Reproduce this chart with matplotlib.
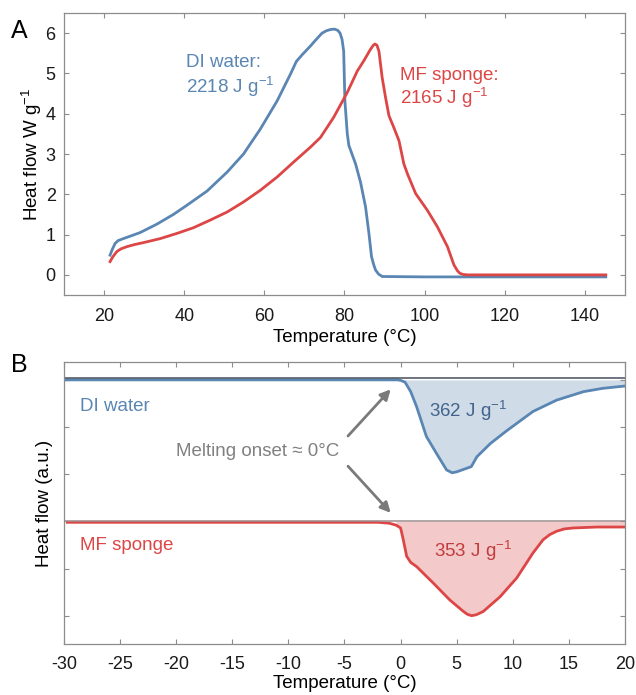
import matplotlib
matplotlib.use("Agg")
import matplotlib.pyplot as plt
import numpy as np

plt.rcParams['font.family'] = ['Liberation Sans', 'DejaVu Sans']
plt.rcParams['mathtext.default'] = 'regular'
plt.rcParams['axes.unicode_minus'] = False

# ---------------- Panel A data (Temperature °C, Heat flow W/g) ----------------
a_water_T = [21.5, 22.0, 22.75, 23.5, 24.8, 26.5, 29, 33.2, 37.3, 40.7, 45.7, 50.7, 54.8, 59,
             63.2, 66.5, 68.0, 69.5, 71.5, 73.0, 74.4, 75.5, 76.5, 77.5, 78.3, 78.9, 79.4,
             79.8, 80.1, 80.7, 81.1, 82.75, 84, 85.25, 86.1, 86.75, 87.3, 87.75, 88.5, 89.4,
             100, 120, 145.2]
a_water_H = [0.49, 0.62, 0.78, 0.85, 0.9, 0.96, 1.05, 1.26, 1.5, 1.73, 2.08, 2.55, 3.0, 3.62,
             4.32, 4.98, 5.3, 5.47, 5.68, 5.85, 6.0, 6.06, 6.09, 6.1, 6.07, 6.0, 5.84,
             5.55, 4.32, 3.5, 3.21, 2.76, 2.3, 1.69, 1.03, 0.45, 0.25, 0.12, 0.02, -0.04,
             -0.05, -0.05, -0.05]
a_sponge_T = [21.5, 22.2, 23.2, 24.3, 25.7, 27.5, 29.8, 34, 38.2, 42.3, 46.5, 50.7, 54.8, 59,
              63.2, 67.3, 71.5, 74, 77.3, 80.7, 83.2, 84.8, 86.5, 87.2, 87.6, 88.1, 88.6,
              89.4, 90.25, 91.1, 92.3, 93.6, 94.8, 95.7, 97.75, 100.7, 103.2, 105.7, 107.3,
              108.2, 108.8, 109.6, 110.7, 120, 145.2]
a_sponge_H = [0.33, 0.45, 0.58, 0.65, 0.7, 0.75, 0.8, 0.9, 1.03, 1.17, 1.36, 1.56, 1.81, 2.1,
              2.43, 2.8, 3.17, 3.41, 3.91, 4.53, 5.06, 5.31, 5.6, 5.7, 5.73, 5.7, 5.55,
              4.9, 4.4, 3.95, 3.66, 3.33, 2.76, 2.51, 2.02, 1.6, 1.19, 0.7, 0.25,
              0.1, 0.04, 0.01, 0.0, 0.0, 0.0]

# ---------------- Panel B data (Temperature °C, heat flow a.u.) ----------------
b_water_T = [-30, -5, -1, -0.3, 0, 0.4, 0.9, 1.43, 2.3, 3.2, 4.1, 4.6, 5.0, 6.3, 6.8, 8.0,
             9.45, 11.8, 13.9, 16.3, 18, 20]
b_water_H = [0, 0, 0, 0, -0.01, -0.05, -0.25, -0.57, -1.2, -1.56, -1.91, -1.97, -1.95, -1.84,
             -1.63, -1.35, -1.08, -0.67, -0.43, -0.25, -0.18, -0.13]
b_water_base = 0.0
b_sponge_T = [-29.7, -5, -2, -1, -0.4, 0, 0.24, 0.54, 0.9, 1.43, 2.92, 4.4, 5.6, 5.95, 6.33,
              6.75, 7.37, 8.86, 10.35, 11.8, 12.7, 13.3, 13.9, 14.6, 15.4, 17.5, 20]
b_sponge_H = [-3.02, -3.02, -3.02, -3.04, -3.08, -3.14, -3.39, -3.74, -3.87, -3.96, -4.31,
              -4.67, -4.91, -4.97, -5.0, -4.98, -4.91, -4.6, -4.2, -3.67, -3.39, -3.28, -3.21,
              -3.16, -3.14, -3.12, -3.12]
b_sponge_base = -3.0

BLUE = '#5a86b3'
RED = '#dd4646'

fig = plt.figure(figsize=(6.36, 6.95), dpi=100)
axA = fig.add_axes([0.1006, 0.5755, 0.8821, 0.4058])
axB = fig.add_axes([0.1006, 0.0734, 0.8821, 0.4058])

def style(ax):
    for s in ax.spines.values():
        s.set_color('#8c8c8c')
        s.set_linewidth(0.9)
    ax.tick_params(direction='in', top=True, right=True, length=3.5, width=0.8,
                   color='#8c8c8c', labelsize=13, labelcolor='#1a1a1a')
    ax.tick_params(axis='x', pad=9)
    ax.tick_params(axis='y', pad=6)

# Panel A
style(axA)
axA.plot(a_water_T, a_water_H, color=BLUE, lw=2)
axA.plot(a_sponge_T, a_sponge_H, color=RED, lw=2)
axA.set_xlim(10, 150)
axA.set_ylim(-0.5, 6.5)
axA.set_xticks([20, 40, 60, 80, 100, 120, 140])
axA.set_yticks([0, 1, 2, 3, 4, 5, 6])
axA.set_xlabel('Temperature (°C)', fontsize=13.5, labelpad=3)
axA.set_ylabel('Heat flow W g$^{-1}$', fontsize=13.5)
axA.yaxis.set_label_coords(-0.036, 0.5)
axA.text(40.5, 5.27, 'DI water:', color=BLUE, fontsize=13.5, va='center', ha='left')
axA.text(40.5, 4.67, '2218 J g$^{-1}$', color=BLUE, fontsize=13.5, va='center', ha='left')
axA.text(93.8, 4.94, 'MF sponge:', color=RED, fontsize=13.5, va='center', ha='left')
axA.text(93.8, 4.39, '2165 J g$^{-1}$', color=RED, fontsize=13.5, va='center', ha='left')

# Panel B
style(axB)
bwT = np.array(b_water_T); bwH = np.array(b_water_H)
bsT = np.array(b_sponge_T); bsH = np.array(b_sponge_H)
axB.fill_between(bwT, bwH, b_water_base, where=bwT >= -0.5, color='#cfdbe7', lw=0)
axB.fill_between(bsT, bsH, b_sponge_base, where=bsT >= -0.5, color='#f3c9c9', lw=0)
axB.plot(bwT, bwH, color=BLUE, lw=2)
axB.plot(bsT, bsH, color=RED, lw=2)
axB.axhline(b_water_base + 0.03, color='#46505e', lw=1.1)
axB.axhline(b_sponge_base + 0.01, color='#9c8e8e', lw=1.1)
axB.set_xlim(-30, 20)
axB.set_ylim(-5.6, 0.38)
axB.set_xticks(list(range(-30, 21, 5)))
axB.set_yticks([-5, -4, -3, -2, -1, 0])
axB.set_yticklabels([])
axB.set_xlabel('Temperature (°C)', fontsize=13.5, labelpad=1)
axB.set_ylabel('Heat flow (a.u.)', fontsize=13.5)
axB.yaxis.set_label_coords(-0.02, 0.5)
axB.text(-28.6, -0.57, 'DI water', color=BLUE, fontsize=13.5, va='center', ha='left')
axB.text(-28.6, -3.52, 'MF sponge', color=RED, fontsize=13.5, va='center', ha='left')
axB.text(6.0, -0.65, '362 J g$^{-1}$', color='#41638c', fontsize=13.5, va='center', ha='center')
axB.text(6.45, -3.62, '353 J g$^{-1}$', color='#c23c3e', fontsize=13.5, va='center', ha='center')
axB.text(-5.5, -1.51, 'Melting onset \u2248 0°C', color='#808080', fontsize=13.5,
         va='center', ha='right')
arrow_kw = dict(arrowstyle='-|>,head_length=0.6,head_width=0.3', color='#7a7a7a', lw=2,
                shrinkA=0, shrinkB=0)
axB.annotate('', xy=(-0.88, -0.2), xytext=(-4.69, -1.19), arrowprops=arrow_kw)
axB.annotate('', xy=(-0.88, -2.82), xytext=(-4.69, -1.83), arrowprops=arrow_kw)

fig.text(0.018, 0.955, 'A', fontsize=18, ha='left', va='center')
fig.text(0.018, 0.475, 'B', fontsize=18, ha='left', va='center')

fig.savefig('out.png', dpi=100)
